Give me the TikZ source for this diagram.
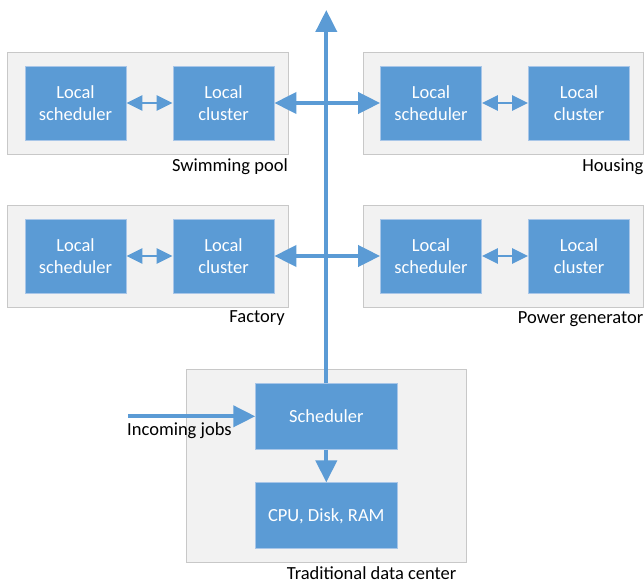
\documentclass[tikz,border=0pt]{standalone}
\usepackage{fontspec}
\setmainfont{Carlito}
\usetikzlibrary{arrows.meta}
\definecolor{boxblue}{HTML}{5B9BD5}
\definecolor{boxedge}{HTML}{A8C6E8}
\definecolor{grayfill}{HTML}{F2F2F2}
\definecolor{grayedge}{HTML}{C8C8C8}
\tikzset{
  site/.style={draw=grayedge, fill=grayfill, line width=0.8pt},
  unit/.style={draw=boxedge, fill=boxblue, line width=0.8pt, text=white, align=center,
    inner sep=0pt, minimum width=101pt, minimum height=74pt},
  bigunit/.style={unit, minimum width=141.3pt, minimum height=66pt},
  bigarrow/.style={draw=boxblue, line width=4pt, -{Triangle[length=22pt,width=21pt]}},
  bigboth/.style={draw=boxblue, line width=4pt, {Triangle[length=22pt,width=21pt]}-{Triangle[length=22pt,width=21pt]}},
  smallboth/.style={draw=boxblue, line width=2.5pt, {Triangle[length=16pt,width=15pt]}-{Triangle[length=16pt,width=15pt]}},
  lbl/.style={inner sep=0pt, text=black}
}
\begin{document}
\begin{tikzpicture}[x=1pt, y=-1pt, font=\fontsize{18.5}{22}\selectfont]
\useasboundingbox (0,0) rectangle (644,585);
% site boxes
\path[site] (7.7,52.3) rectangle (288.7,154.3);
\path[site] (363,52.3) rectangle (643.5,154.3);
\path[site] (7.7,205) rectangle (288.7,307.3);
\path[site] (363,205) rectangle (643.5,307.3);
\path[site] (186.7,369) rectangle (466.7,562.3);
% units
\node[unit] (s1) at (75.5,103) {Local\\scheduler};
\node[unit] (c1) at (223.5,103) {Local\\cluster};
\node[unit] (s2) at (431,103) {Local\\scheduler};
\node[unit] (c2) at (579,103) {Local\\cluster};
\node[unit] (s3) at (75.5,256) {Local\\scheduler};
\node[unit] (c3) at (223.5,256) {Local\\cluster};
\node[unit] (s4) at (431,256) {Local\\scheduler};
\node[unit] (c4) at (579,256) {Local\\cluster};
\node[bigunit] (sch) at (326.3,416.3) {Scheduler};
\node[bigunit] (cpu) at (326.3,515.8) {CPU, Disk, RAM};
% labels
\node[lbl, anchor=base east] (l1) at (288,172) {Swimming pool};
\node[lbl, anchor=base east] (l2) at (643.5,172) {Housing};
\node[lbl, anchor=base east] (l3) at (285,322) {Factory};
\node[lbl, anchor=base east] (l4) at (643.5,323) {Power generator};
\node[lbl, anchor=base west] (l5) at (286.7,579.5) {Traditional data center};
\node[lbl, anchor=base west] (l6) at (127,435) {Incoming jobs};
% connectors
\coordinate (top) at (326.3,10);
\coordinate (in) at (128,416.3);
\draw[bigarrow] (sch.north) -- (top);
\draw[bigboth] (c1.east) -- (s2.west);
\draw[bigboth] (c3.east) -- (s4.west);
\draw[smallboth] (s1.east) -- (c1.west);
\draw[smallboth] (s2.east) -- (c2.west);
\draw[smallboth] (s3.east) -- (c3.west);
\draw[smallboth] (s4.east) -- (c4.west);
\draw[bigarrow] (sch.south) -- (cpu.north);
\draw[bigarrow] (in) -- (sch.west);
\end{tikzpicture}
\end{document}
